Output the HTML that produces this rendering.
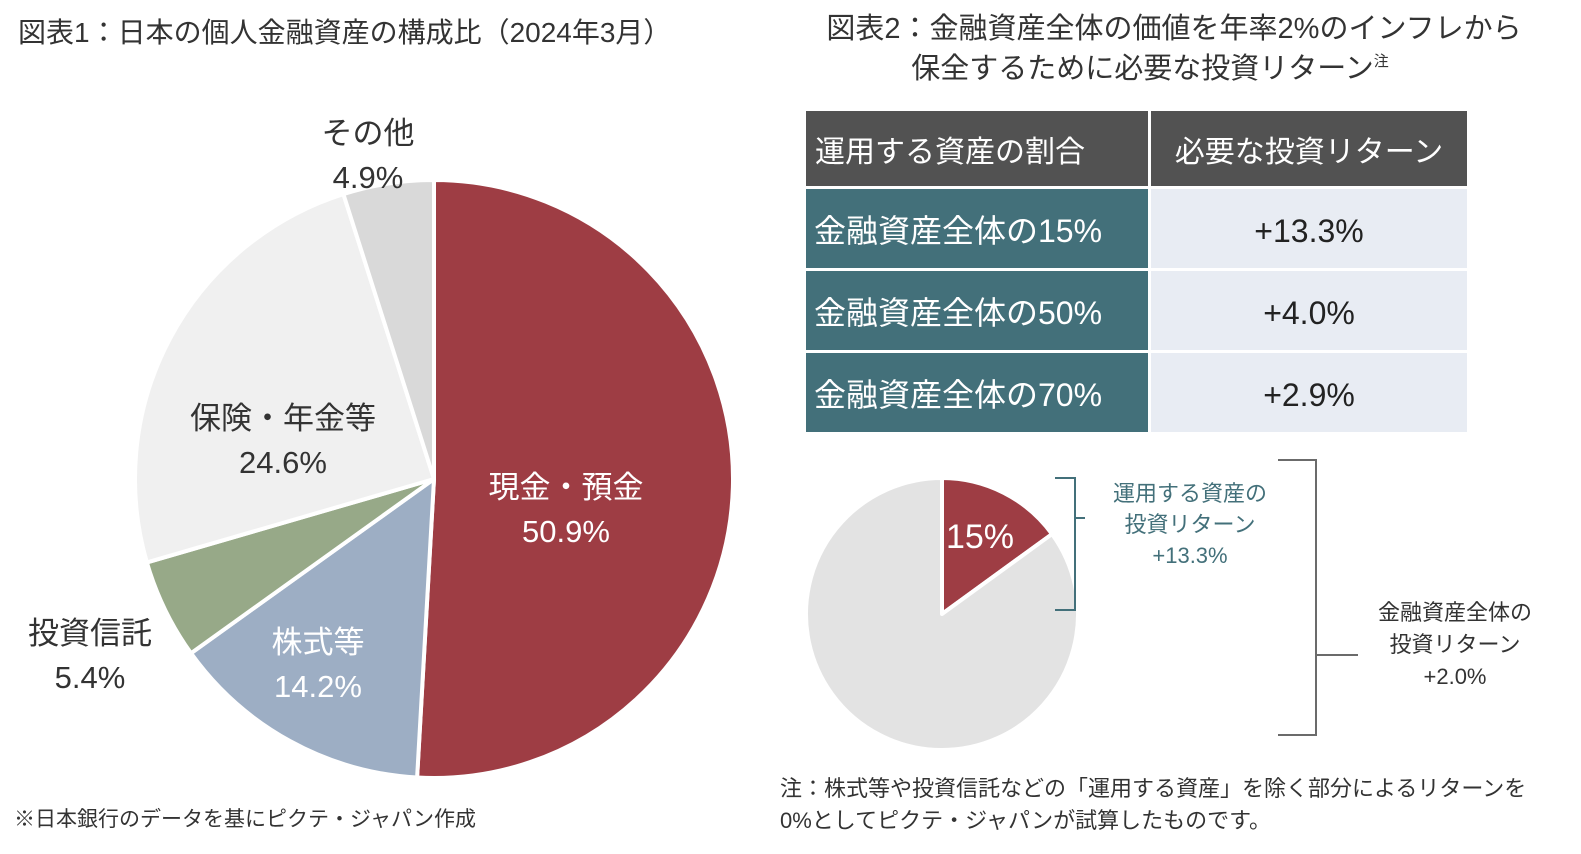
<!DOCTYPE html>
<html><head><meta charset="utf-8">
<style>
html,body{margin:0;padding:0;background:#fff;}
body{width:1581px;height:849px;overflow:hidden;position:relative;font-family:"Liberation Sans","Noto Sans CJK JP",sans-serif;}
svg text{font-family:"Liberation Sans","Noto Sans CJK JP",sans-serif;}
</style></head>
<body>
<svg id="main" width="1581" height="849" viewBox="0 0 1581 849" xmlns="http://www.w3.org/2000/svg">
  <text x="18" y="42" font-size="28" fill="#333">図表1：日本の個人金融資産の構成比（2024年3月）</text>
  <g id="pie1"></g>
  <text x="14" y="826" font-size="21" fill="#333">※日本銀行のデータを基にピクテ・ジャパン作成</text>

  <text x="1174" y="38" font-size="29" fill="#333" text-anchor="middle">図表2：金融資産全体の価値を年率2%のインフレから</text>
  <text x="1150" y="78" font-size="29" fill="#333" text-anchor="middle">保全するために必要な投資リターン<tspan font-size="15" dy="-12">注</tspan></text>

  <g>
    <rect x="806" y="111" width="342" height="75" fill="#525252"/>
    <rect x="1151" y="111" width="316" height="75" fill="#525252"/>
    <text x="815" y="162" font-size="30" fill="#fff">運用する資産の割合</text>
    <text x="1309" y="162" font-size="30" fill="#fff" text-anchor="middle">必要な投資リターン</text>
    <g id="rows"></g>
  </g>

  <g id="pie2"></g>
  <path d="M1055,478 H1075 V610 H1055 M1075,518 H1085" fill="none" stroke="#43707a" stroke-width="2"/>
  <text x="1190" y="501" font-size="22" fill="#43707a" text-anchor="middle">運用する資産の</text>
  <text x="1190" y="532" font-size="22" fill="#43707a" text-anchor="middle">投資リターン</text>
  <text x="1190" y="563" font-size="22" fill="#43707a" text-anchor="middle">+13.3%</text>
  <path d="M1278,460 H1316 V735 H1278 M1316,655 H1358" fill="none" stroke="#6b6b6b" stroke-width="2"/>
  <text x="1455" y="620" font-size="22" fill="#333" text-anchor="middle">金融資産全体の</text>
  <text x="1455" y="652" font-size="22" fill="#333" text-anchor="middle">投資リターン</text>
  <text x="1455" y="684" font-size="22" fill="#333" text-anchor="middle">+2.0%</text>

  <text x="780" y="796" font-size="22" fill="#333">注：株式等や投資信託などの「運用する資産」を除く部分によるリターンを</text>
  <text x="780" y="828" font-size="22" fill="#333">0%としてピクテ・ジャパンが試算したものです。</text>
</svg>
<script>
const categories = ['現金・預金','株式等','投資信託','保険・年金等','その他'];
const shares = [50.9, 14.2, 5.4, 24.6, 4.9];
const sliceColors = ['#9e3d44','#9daec4','#97a988','#f0f0f0','#d9d9d9'];
const rowLabels = ['金融資産全体の15%','金融資産全体の50%','金融資産全体の70%'];
const rowReturns = ['+13.3%','+4.0%','+2.9%'];
const share2 = [15, 85];

const NS='http://www.w3.org/2000/svg';
function mk(tag, attrs, parent){const e=document.createElementNS(NS,tag);for(const k in attrs)e.setAttribute(k,attrs[k]);parent.appendChild(e);return e;}
function pt(cx,cy,r,frac){const a=frac*2*Math.PI;return [cx+r*Math.sin(a), cy-r*Math.cos(a)];}
function arc(cx,cy,r,f0,f1){const p0=pt(cx,cy,r,f0),p1=pt(cx,cy,r,f1);const large=(f1-f0)>0.5?1:0;
  return `M${cx},${cy} L${p0[0]},${p0[1]} A${r},${r} 0 ${large} 1 ${p1[0]},${p1[1]} Z`;}

// pie 1
const g1=document.getElementById('pie1');
const cx=434, cy=479, R=299;
const total=shares.reduce((a,b)=>a+b,0);
let acc=0;
// label placement (layout, not data): offset from center
const labelXY=[[132,30],[-116,185],[-344,176],[-151,-39],[-66,-324]];
shares.forEach((v,i)=>{
  const f0=acc/total, f1=(acc+v)/total; acc+=v;
  const p=mk('path',{d:arc(cx,cy,R,f0,f1),fill:sliceColors[i],stroke:'#fff','stroke-width':4,'stroke-linejoin':'round'},g1);
  
  
  const lx=cx+labelXY[i][0], ly=cy+labelXY[i][1];
  const dark = i===0||i===1;
  const col = dark?'#fff':'#333';
  const t1=mk('text',{x:lx,y:ly-11,'font-size':31,fill:col,'text-anchor':'middle'},g1);
  t1.textContent=categories[i];
  
  
  const t2=mk('text',{x:lx,y:ly+33,'font-size':31,fill:col,'text-anchor':'middle'},g1);
  t2.textContent=v.toFixed(1)+'%';
  
  
});

// table rows
const rows=document.getElementById('rows');
rowLabels.forEach((lab,i)=>{
  const y=189+i*82;
  const r1=mk('rect',{x:806,y:y,width:342,height:79,fill:'#43707a'},rows);
  
  
  const r2=mk('rect',{x:1151,y:y,width:316,height:79,fill:'#e8ecf3'},rows);
  
  
  const t1=mk('text',{x:814,y:y+53,'font-size':32,fill:'#fff'},rows);
  t1.textContent=lab;
  
  
  const t2=mk('text',{x:1309,y:y+53,'font-size':32,fill:'#222','text-anchor':'middle'},rows);
  t2.textContent=rowReturns[i];
  
  
});

// pie 2
const g2=document.getElementById('pie2');
const c2x=942,c2y=614,R2=136;
const t2tot=share2[0]+share2[1];
const colors2=['#9e3d44','#e3e3e3'];
let a2=0;
share2.forEach((v,i)=>{
  const f0=a2/t2tot,f1=(a2+v)/t2tot;a2+=v;
  const p=mk('path',{d:arc(c2x,c2y,R2,f0,f1),fill:colors2[i],stroke:'#fff','stroke-width':4,'stroke-linejoin':'round'},g2);
  
  
});
const lbl=mk('text',{x:980,y:548,'font-size':34,fill:'#fff','text-anchor':'middle'},g2);
lbl.textContent=share2[0]+'%';


</script>
</body></html>
